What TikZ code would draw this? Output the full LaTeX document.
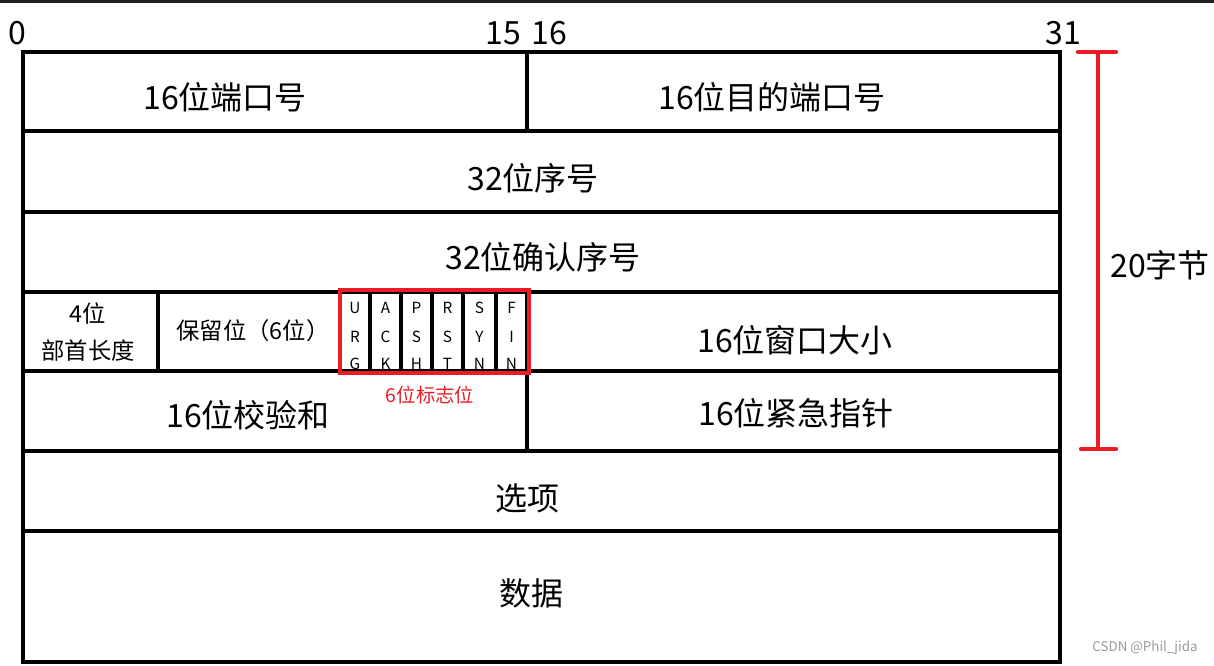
\documentclass[tikz,border=0pt]{standalone}
\usepackage{fontspec}
\setmainfont{Noto Sans CJK SC}
\definecolor{flagred}{RGB}{237,28,36}
\tikzset{
    big/.style={font=\fontsize{24}{26}\selectfont},
    mid/.style={font=\fontsize{17.5}{19}\selectfont,align=center},
    flag/.style={font=\fontsize{11.5}{12}\selectfont,inner sep=0pt},
}

\begin{document}
\begin{tikzpicture}[x=0.75pt,y=-0.75pt,line width=3.2pt]
    \useasboundingbox (0,0) rectangle (1214,666);
    \fill[black!87] (0,0) rectangle (1214,3);
    % bit numbers
    \node[big] (b0) at (17,33) {0};
    \node[big] (b15) at (503,33) {15};
    \node[big] (b16) at (549,33) {16};
    \node[big] (b31) at (1063,33) {31};
    % field texts
    \node[big] (srcport) at (225,97) {16位端口号};
    \node[big] (dstport) at (772,97) {16位目的端口号};
    \node[big] (seq) at (533,178) {32位序号};
    \node[big] (ack) at (543,257) {32位确认序号};
    \node[mid] (hlen) at (88,332) {4位\\[9pt]部首长度};
    \node[mid] (resv) at (253,331) {保留位（6位）};
    \node[big] (win) at (795,340) {16位窗口大小};
    \node[big] (csum) at (248,415) {16位校验和};
    \node[big] (urgp) at (796,413) {16位紧急指针};
    \node[big] (opts) at (527,498) {选项};
    \node[big] (data) at (531,593) {数据};
    % flag letters
    \foreach \xx/\a/\b/\c in {355/U/R/G,385.5/A/C/K,416.5/P/S/H,447.5/R/S/T,479.5/S/Y/N,511.5/F/I/N} {
        \node[flag] at (\xx,308) {\a};
        \node[flag] at (\xx,337) {\b};
        \node[flag] at (\xx,364) {\c};
    }
    % grid
    \draw (23,52) rectangle (1060,662);
    \foreach \yy in {131,212,292,371,451,531} \draw (23,\yy) -- (1060,\yy);
    \draw (527,52) -- (527,131);
    \draw (527,371) -- (527,451);
    \draw (158,292) -- (158,371);
    \foreach \xx in {340,370,401,432,463,496,527} \draw (\xx,292) -- (\xx,371);
    % flags box
    \draw[flagred] (340,290) rectangle (529,373);
    \node[flagred,font=\fontsize{14.5}{16}\selectfont] (flags) at (430,395) {6位标志位};
    % header length bracket
    \draw[flagred] (1098,52) -- (1098,449);
    \draw[flagred,line cap=round] (1078,52) -- (1116,52);
    \draw[flagred,line cap=round] (1081,449) -- (1116,449);
    \node[big] (hdr) at (1160,265) {20字节};
    \node[black!40,font=\fontsize{10}{12}\selectfont] (mark) at (1145,648) {CSDN @Phil\_jida};
\end{tikzpicture}
\end{document}
